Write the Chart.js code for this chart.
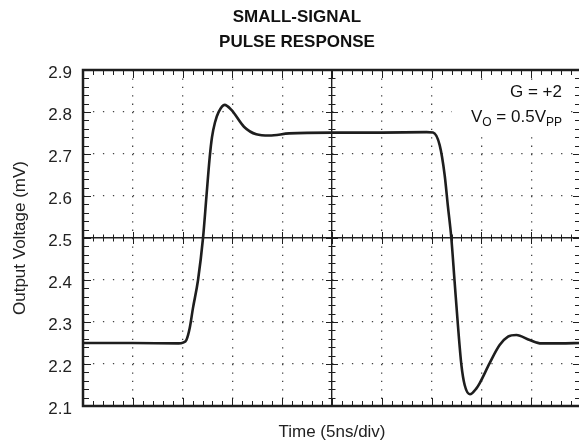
<!DOCTYPE html>
<html>
<head>
<meta charset="utf-8">
<script src="https://cdn.jsdelivr.net/npm/chart.js@4/dist/chart.umd.min.js"></script>
<style>
  html, body { margin: 0; padding: 0; background: #fff; overflow: hidden; }
  #wrap { width: 600px; height: 447px; }
</style>
</head>
<body>
<div id="wrap"><canvas id="pulseChart" width="600" height="447"></canvas></div>
<script>
'use strict';

// values (time in ns, 5ns per division)
const timeNs = [0, 5, 9.6, 10.05, 10.38, 10.71, 11.04, 11.55, 12.05, 12.39, 12.72, 12.95, 13.25, 13.6, 14.22, 14.9, 16.16, 17.4, 18.7, 20.7, 25, 30, 34.5, 35.14, 35.81, 36.31, 36.64, 36.98, 37.31, 37.64, 37.99, 38.32, 38.85, 39.5, 39.82, 40.83, 41.83, 42.67, 43.51, 44.85, 46.02, 47.86, 50];
const outputMv = [2.25, 2.25, 2.249, 2.251, 2.257, 2.285, 2.333, 2.40, 2.5, 2.598, 2.692, 2.74, 2.775, 2.799, 2.817, 2.805, 2.765, 2.747, 2.744, 2.749, 2.751, 2.751, 2.752, 2.751, 2.721, 2.65, 2.575, 2.5, 2.396, 2.293, 2.198, 2.15, 2.128, 2.142, 2.154, 2.202, 2.245, 2.265, 2.269, 2.257, 2.249, 2.249, 2.25];

const yTickValues = [2.1, 2.2, 2.3, 2.4, 2.5, 2.6, 2.7, 2.8, 2.9];
const xTickValues = [0, 5, 10, 15, 20, 25, 30, 35, 40, 45, 50];

const titleLines = ['SMALL-SIGNAL', 'PULSE RESPONSE'];
const fontFam = '"Liberation Sans", Arial, Helvetica, sans-serif';
const ink = '#1e1e1e';

let points = [];
for (let i = 0; i < timeNs.length; i++) {
  points.push({ x: timeNs[i], y: outputMv[i] });
}

function isMid(c, v) {
  return c.tick && Math.abs(c.tick.value - v) < 1e-6;
}

// frame, minor ticks, centre cross ticks, title and the gain note
const scopePlugin = {
  id: 'scopeDecor',
  beforeDatasetsDraw(chart) {
    // the note sits on a white patch, the grid dots stop around it
    const ctx = chart.ctx;
    ctx.save();
    ctx.fillStyle = '#fff';
    ctx.fillRect(452, 80, 116, 50);
    ctx.restore();
  },
  afterDraw(chart) {
    const ctx = chart.ctx;
    const area = chart.chartArea;
    const xs = chart.scales.x;
    const ys = chart.scales.y;
    const midY = ys.getPixelForValue(2.5);
    const midX = xs.getPixelForValue(25);

    ctx.save();
    ctx.strokeStyle = ink;
    ctx.lineWidth = 1;

    for (let i = 0; i <= 50; i++) {
      const px = Math.round(xs.getPixelForValue(i)) + 0.5;
      const big = i % 5 === 0;
      const len = big ? 8 : 5;
      ctx.beginPath();
      ctx.moveTo(px, area.bottom); ctx.lineTo(px, area.bottom - len);
      ctx.moveTo(px, area.top); ctx.lineTo(px, area.top + len);
      const c = big ? 6 : 3.5;
      ctx.moveTo(px, midY - c); ctx.lineTo(px, midY + c);
      ctx.stroke();
    }
    for (let k = 0; k <= 40; k++) {
      const py = Math.round(ys.getPixelForValue(2.1 + k * 0.02)) + 0.5;
      const big = k % 5 === 0;
      const len = big ? 8 : 6;
      ctx.beginPath();
      ctx.moveTo(area.left, py); ctx.lineTo(area.left + len, py);
      ctx.moveTo(area.right, py); ctx.lineTo(area.right - len, py);
      const c = big ? 6 : 3.5;
      ctx.moveTo(midX - c, py); ctx.lineTo(midX + c, py);
      ctx.stroke();
    }

    ctx.lineWidth = 2.5;
    ctx.strokeRect(area.left, area.top, area.right - area.left, area.bottom - area.top);

    // title
    ctx.fillStyle = '#111';
    ctx.font = 'bold 17px ' + fontFam;
    ctx.textAlign = 'center';
    ctx.textBaseline = 'middle';
    ctx.fillText(titleLines[0], 297, 17);
    ctx.fillText(titleLines[1], 297, 42);

    // G = +2 / Vo = 0.5Vpp
    const rightX = 562;
    ctx.font = '17px ' + fontFam;
    ctx.textAlign = 'right';
    ctx.textBaseline = 'alphabetic';
    ctx.fillText('G = +2', rightX, 97);

    const parts = [['V', false], ['O', true], [' = 0.5V', false], ['PP', true]];
    let total = 0;
    for (const p of parts) {
      ctx.font = (p[1] ? '12px ' : '17px ') + fontFam;
      total += ctx.measureText(p[0]).width;
    }
    let x = rightX - total;
    ctx.textAlign = 'left';
    for (const p of parts) {
      ctx.font = (p[1] ? '12px ' : '17px ') + fontFam;
      ctx.fillText(p[0], x, p[1] ? 126 : 122);
      x += ctx.measureText(p[0]).width;
    }
    ctx.restore();
  }
};

const ctx = document.getElementById('pulseChart').getContext('2d');
const chart = new Chart(ctx, {
  type: 'line',
  data: {
    datasets: [{
      data: points,
      borderColor: ink,
      borderWidth: 2.6,
      pointRadius: 0,
      fill: false,
      cubicInterpolationMode: 'monotone'
    }]
  },
  options: {
    responsive: false,
    animation: false,
    layout: { padding: { top: 70, right: 19, left: 0, bottom: 0 } },
    plugins: {
      legend: { display: false },
      tooltip: { enabled: false }
    },
    scales: {
      x: {
        type: 'linear',
        min: 0,
        max: 50,
        afterBuildTicks: (scale) => { scale.ticks = xTickValues.map(v => ({ value: v })); },
        afterFit: (scale) => { scale.height = 41; },
        ticks: { display: false },
        grid: {
          drawTicks: false,
          color: (c) => isMid(c, 25) ? ink : '#444',
          lineWidth: (c) => isMid(c, 25) ? 1.4 : 1.3
        },
        border: {
          display: false,
          dash: (c) => isMid(c, 25) ? [] : [1.3, 7.1]
        },
        title: {
          display: true,
          text: 'Time (5ns/div)',
          color: '#222',
          font: { family: fontFam, size: 17 },
          padding: { top: 0, bottom: 4 }
        }
      },
      y: {
        type: 'linear',
        min: 2.1,
        max: 2.9,
        afterBuildTicks: (scale) => { scale.ticks = yTickValues.map(v => ({ value: v })); },
        afterFit: (scale) => { scale.width = 83; },
        ticks: {
          color: '#222',
          padding: 11,
          labelOffset: 3,
          font: { family: fontFam, size: 17 },
          callback: (v) => Number(v).toFixed(1)
        },
        grid: {
          drawTicks: false,
          color: (c) => isMid(c, 2.5) ? ink : '#444',
          lineWidth: (c) => isMid(c, 2.5) ? 1.4 : 1.3
        },
        border: {
          display: false,
          dash: (c) => isMid(c, 2.5) ? [] : [1.3, 8.66]
        },
        title: {
          display: true,
          text: 'Output Voltage (mV)',
          color: '#222',
          font: { family: fontFam, size: 17 },
          padding: { top: 10, bottom: 0 }
        }
      }
    }
  },
  plugins: [scopePlugin]
});
</script>
</body>
</html>
